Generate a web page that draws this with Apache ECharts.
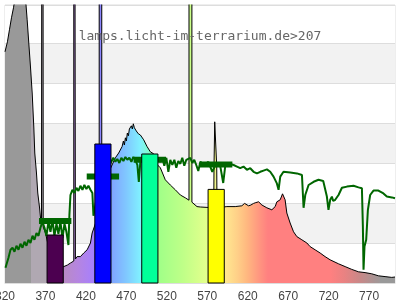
<!DOCTYPE html>
<html><head><meta charset="utf-8">
<script src="https://cdn.jsdelivr.net/npm/echarts@6/dist/echarts.min.js"></script>
<style>html,body{margin:0;padding:0;background:#fff}#c{width:400px;height:300px}</style>
</head><body><div id="c"></div>
<script>
const titleText = 'lamps.licht-im-terrarium.de>207';
const xMin = 320, xMax = 802, xStep = 50;
const yMin = 0, yMax = 6.95, yStep = 1;

// spectrum: [wavelength nm, relative intensity]
const spectrum = [[320,5.78],[323,6.03],[325.5,6.33],[328,6.63],[330.5,6.88],[333,7.2],[336,7.8],[339,8.2],[342,7.8],[345.3,7.13],[347.4,6.58],[349.4,6.0],[351.5,5.4],[353.6,4.75],[355.6,3.9],[356.8,3.25],[358.9,2.75],[360.5,2.25],[362.6,1.9],[363.8,1.65],[365.1,1.45],[365.8,1.42],[366.5,30],[367.2,1.4],[367.5,1.38],[370,1.25],[375,0.8],[380,0.5],[385,0.45],[390,0.42],[392.6,0.41],[397.2,0.45],[400.9,0.5],[403.3,0.52],[405,0.55],[405.1,30],[406.9,30],[407,0.6],[409.1,0.66],[413.2,0.66],[417.3,0.75],[421.5,0.83],[425.6,1.0],[427.7,1.25],[429.6,1.28],[432,1.5],[436.4,1.8],[436.5,30],[439.5,30],[439.6,1.95],[442,2.3],[446,2.6],[450,2.85],[452.3,2.95],[456.4,3.13],[460.5,3.25],[464.7,3.41],[466.3,3.55],[467.5,3.45],[468.8,3.63],[470,3.55],[471.2,3.75],[472.5,3.68],[473.7,3.85],[474.9,3.8],[476.2,3.93],[477.4,3.85],[478.6,3.98],[479.9,3.88],[481.1,3.93],[482.3,3.8],[483.6,3.85],[484.8,3.73],[487.3,3.7],[491.4,3.58],[495.6,3.41],[499.6,3.28],[503.7,3.23],[505.8,3.13],[508.6,2.95],[512,2.88],[518.1,2.58],[524.3,2.45],[530.5,2.33],[536.7,2.2],[542.8,2.13],[547.4,2.07],[547.5,30],[550.9,30],[551,2.02],[552,2.0],[557.3,1.91],[561.4,1.9],[569.6,1.89],[575,1.89],[578,1.9],[578.3,2.9],[579.2,4.03],[580.8,4.03],[581.7,2.9],[582,1.9],[590,1.9],[594.2,1.91],[604.5,1.91],[612.7,1.93],[616.1,1.99],[617.7,1.98],[621,1.93],[623.9,1.95],[627.2,1.99],[630,2.01],[633.4,2.03],[635,2.0],[637.5,1.95],[643.6,1.88],[649.8,1.83],[653.9,1.91],[656,2.03],[660.1,2.08],[663,2.23],[666.2,2.08],[668.3,1.75],[672.4,1.5],[676.6,1.28],[680.7,1.16],[686.9,1.08],[693.1,1.0],[697.1,0.91],[703.3,0.83],[709.5,0.75],[715.6,0.66],[721.8,0.58],[723.9,0.53],[732.2,0.48],[740.4,0.41],[748.6,0.34],[756.9,0.28],[765,0.26],[773.3,0.23],[781.5,0.18],[789.7,0.16],[798,0.14],[802,0.15]];

// transmission curve
const transmission = [[320.6,0.38],[324.3,0.63],[326.8,0.83],[329.3,0.88],[331.7,0.78],[334.2,0.93],[336.7,0.83],[339.1,0.98],[341.6,0.88],[344.1,1.03],[346.5,0.93],[349,1.08],[351.5,1.0],[354,1.18],[356.4,1.08],[358.9,1.25],[361.4,1.18],[363.8,1.38],[366.3,1.53],[368.8,1.38],[371.2,1.18],[373.7,1.53],[376.2,1.28],[378.6,1.58],[381.1,1.18],[383.6,1.48],[386,1.23],[388.5,1.53],[391,1.13],[393.5,1.48],[395.9,1.28],[398.4,0.95],[399.6,1.7],[400.9,2.2],[403.3,2.33],[405.8,2.25],[408.3,2.38],[410.7,2.3],[413.2,2.43],[415.7,2.33],[418.1,2.45],[420.6,2.35],[423.1,2.43],[425.6,2.33],[428,2.25],[429.3,1.68],[433,2.08],[437.9,2.53],[444.1,2.83],[449,2.95],[451.5,3.03],[453.9,3.13],[456.4,3.03],[458.8,3.1],[461.3,3.0],[463.8,3.13],[466.3,3.05],[468.8,3.15],[471.2,3.08],[473.7,3.13],[476.2,3.03],[478.6,3.15],[481.1,3.08],[483.6,2.95],[485.4,2.53],[487.3,3.03],[495,3.1],[505,3.05],[509.5,3.08],[512,3.03],[514.4,3.13],[516.9,2.93],[519.4,3.13],[521.9,2.78],[524.3,3.08],[526.8,2.95],[529.3,3.08],[531.7,2.88],[534.2,3.05],[536.7,2.98],[539.1,3.13],[541.6,2.93],[544.1,3.08],[546.5,3.03],[549,3.13],[551.5,3.0],[553.9,3.08],[556.4,2.95],[558.9,2.8],[561.4,3.03],[566.3,2.95],[571.3,3.03],[576.2,2.78],[581.1,3.0],[586,2.93],[589.7,2.5],[592.2,2.93],[597.2,2.98],[602.5,2.95],[606.7,2.91],[610.7,2.87],[614.8,2.91],[619,2.83],[623.1,2.87],[627.2,2.78],[631.4,2.74],[635.5,2.78],[639.5,2.81],[643.7,2.84],[647.8,2.78],[651.9,2.66],[656,2.49],[658.1,2.33],[660.2,2.66],[664.2,2.78],[672.5,2.76],[680.8,2.74],[687,2.7],[689,1.88],[691.1,2.2],[695.2,2.45],[701.4,2.53],[707.5,2.58],[713.3,2.55],[715.7,2.5],[717.8,2.16],[719.8,1.83],[721.9,2.08],[724,2.16],[725.6,2.05],[728.1,2.08],[732.2,2.2],[736.4,2.38],[742.6,2.41],[750.7,2.43],[756.9,2.39],[761.1,2.37],[762.3,1.41],[763.1,0.33],[764.3,0.91],[766.4,1.08],[768.5,1.83],[771.3,2.2],[775.4,2.31],[781.5,2.31],[787.7,2.24],[791.9,2.16],[798.1,2.14],[802,2.12]];

// receptor bars
const barCenters = [382, 441, 499, 581];
const barValues = [1.2, 3.475, 3.225, 2.34];
const meanValues = [1.55, 2.66, 3.08, 2.96];

// styles
const barColors = ['#4c0050', '#0000ff', '#00ff99', '#ffff00'];
const barHalf = 10, segHalf = 20;
const fillStops = [[320,'#999999'],[352.5,'#999999'],[352.6,'#b0a8b2'],[370,'#b0a8b2'],[373,'#b890c0'],[395,'#b88ac8'],[410,'#b585e0'],[428,'#a880fa'],[440,'#8888ff'],[452,'#80a4ff'],[470,'#80c8ff'],[487,'#80f0ff'],[500,'#80ffc0'],[510,'#a0ff88'],[540,'#bfff88'],[570,'#e4ff8c'],[592,'#ffe890'],[607,'#ffd088'],[619,'#ffb880'],[637,'#ff9080'],[645,'#ff8080'],[722,'#ff8080'],[740,'#e88282'],[759,'#c88888'],[777,'#a89494'],[783.5,'#a09898'],[784,'#999999'],[802,'#999999']];

const gradient = new echarts.graphic.LinearGradient(0, 0, 1, 0,
  fillStops.map(s => ({ offset: (s[0] - xMin) / (xMax - xMin), color: s[1] })));

const chart = echarts.init(document.getElementById('c'), null, { renderer: 'canvas' });
chart.setOption({
  animation: false,
  title: {
    text: titleText, left: 'center', top: 25,
    textStyle: { fontFamily: 'DejaVu Sans Mono', fontSize: 13, fontWeight: 'normal', color: '#666' }
  },
  grid: { left: 5, right: 5, top: 5, bottom: 17, containLabel: false, outerBoundsMode: 'none',
          show: true, borderColor: '#ddd', borderWidth: 1 },
  xAxis: {
    type: 'value', min: xMin, max: xMax, interval: xStep,
    axisLine: { show: true, lineStyle: { color: '#ddd' } },
    axisTick: { show: false },
    splitLine: { show: false },
    axisLabel: { showMaxLabel: false, showMinLabel: true, alignMinLabel: 'center', margin: 8,
                 color: '#444', fontSize: 12, fontFamily: 'Liberation Sans' }
  },
  yAxis: {
    type: 'value', min: yMin, max: yMax, interval: yStep,
    axisLine: { show: false }, axisTick: { show: false }, axisLabel: { show: false },
    splitLine: { show: true, lineStyle: { color: '#ddd' } },
    splitArea: { show: true, areaStyle: { color: ['#ffffff', '#f2f2f2'] } }
  },
  series: [
    {
      type: 'line', data: spectrum, showSymbol: false, clip: true, z: 2,
      lineStyle: { color: '#000', width: 1 },
      areaStyle: { color: gradient, opacity: 1 }
    },
    {
      type: 'line', data: transmission, showSymbol: false, clip: true, z: 3,
      lineStyle: { color: '#006600', width: 2 }
    },
    {
      type: 'custom', z: 4,
      data: barCenters.map((c, i) => [c, meanValues[i]]),
      encode: { x: 0, y: 1 },
      renderItem: function (params, api) {
        const c = api.value(0), v = api.value(1);
        const a = api.coord([c - segHalf, v]), b = api.coord([c + segHalf, v]);
        return { type: 'line', shape: { x1: a[0], y1: a[1], x2: b[0], y2: b[1] }, style: { stroke: '#006600', lineWidth: 6 } };
      }
    },
    {
      type: 'custom', z: 5,
      data: barCenters.map((c, i) => [c, barValues[i], i]),
      encode: { x: 0, y: 1 },
      renderItem: function (params, api) {
        const c = api.value(0), v = api.value(1), i = api.value(2);
        const p1 = api.coord([c - barHalf, v]);
        const p2 = api.coord([c + barHalf, yMin]);
        return { type: 'rect', shape: { x: p1[0], y: p1[1], width: p2[0] - p1[0], height: p2[1] - p1[1] },
          style: { fill: barColors[i], stroke: '#000', lineWidth: 1 } };
      }
    }
  ]
});
</script></body></html>
